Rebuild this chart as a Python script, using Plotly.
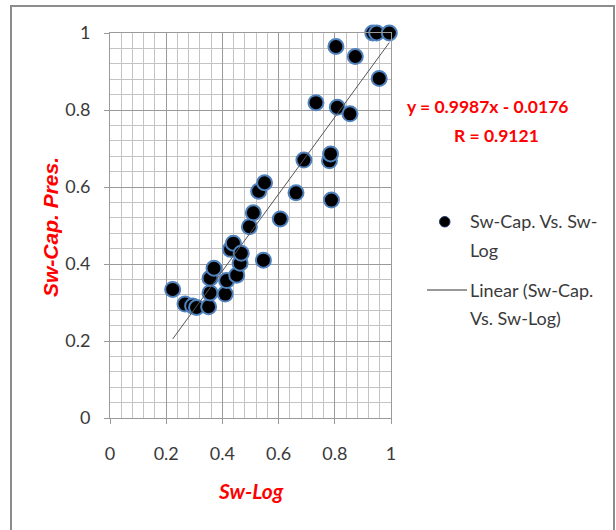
import plotly.graph_objects as go

# Saturation from log analysis vs. saturation from capillary pressure
sw_log = [0.223, 0.267, 0.294, 0.308, 0.351, 0.356, 0.356, 0.370, 0.410, 0.415,
          0.429, 0.439, 0.451, 0.463, 0.467, 0.496, 0.510, 0.529, 0.550, 0.546,
          0.606, 0.662, 0.690, 0.733, 0.781, 0.785, 0.788, 0.804, 0.809, 0.854,
          0.873, 0.935, 0.949, 0.958, 0.994]
sw_cap = [0.334, 0.296, 0.291, 0.287, 0.289, 0.325, 0.363, 0.389, 0.322, 0.357,
          0.438, 0.454, 0.371, 0.402, 0.428, 0.497, 0.533, 0.589, 0.611, 0.410,
          0.517, 0.585, 0.670, 0.819, 0.668, 0.686, 0.566, 0.965, 0.807, 0.790,
          0.939, 1.0, 1.0, 0.882, 1.0]

# Linear fit coefficients and correlation
slope = 0.9987
intercept = -0.0176
r_value = 0.9121

tick_vals = [0, 0.2, 0.4, 0.6, 0.8, 1]
tick_text = ["0", "0.2", "0.4", "0.6", "0.8", "1"]

series_name = "Sw-Cap. Vs. Sw-Log"
fit_name = "Linear (Sw-Cap. Vs. Sw-Log)"

NARROW = "Lato, sans-serif"
WIDE = "Liberation Sans, Arial, sans-serif"
RED = "#ff0000"
TEXT = "#3a3a3a"

# plot-area geometry in pixels
W, H = 616, 530
L, R, T, B = 110, 391, 33, 418


def px(x):
    return (x - L) / (R - L)


def py(y):
    return (B - y) / (B - T)


x_fit = [min(sw_log), max(sw_log)]
y_fit = [slope * v + intercept for v in x_fit]

fig = go.Figure()
fig.add_trace(go.Scatter(
    x=sw_log, y=sw_cap, mode="markers", name=series_name, showlegend=False,
    cliponaxis=False,
    marker=dict(size=15, color="#000000", line=dict(color="#4f81bd", width=2)),
))
fig.add_trace(go.Scatter(
    x=x_fit, y=y_fit, mode="lines", name=fit_name, showlegend=False,
    line=dict(color="#555555", width=1),
))

axis_common = dict(
    range=[0, 1], tickvals=tick_vals, ticktext=tick_text,
    showgrid=True, gridcolor="#9a9a9a", gridwidth=1,
    minor=dict(dtick=0.04, showgrid=True, gridcolor="#c4c4c4", gridwidth=1),
    showline=True, linecolor="#9a9a9a", linewidth=1, mirror=True,
    ticks="outside", ticklen=5, tickcolor="#9a9a9a",
    tickfont=dict(family=NARROW, size=18, color=TEXT),
    zeroline=False, fixedrange=True,
)
fig.update_xaxes(**axis_common, ticklabelstandoff=14)
fig.update_yaxes(**axis_common, ticklabelstandoff=10)

shapes = [
    # chart frame
    dict(type="rect", xref="paper", yref="paper",
         x0=px(11), x1=px(614), y0=py(545), y1=py(6),
         line=dict(color="#8c8c8c", width=2), fillcolor="rgba(0,0,0,0)", layer="below"),
    # legend symbols
    dict(type="circle", xref="paper", yref="paper",
         x0=px(439.5), x1=px(450), y0=py(227), y1=py(216.5),
         fillcolor="#000000", line=dict(color="#1f3864", width=1)),
    dict(type="line", xref="paper", yref="paper",
         x0=px(427), x1=px(467), y0=py(290), y1=py(290),
         line=dict(color="#333333", width=1)),
]

annotations = [
    dict(text=f"y = {slope}x - {abs(intercept)}", x=px(487), y=py(107),
         font=dict(family=NARROW, size=17.5, color=RED, weight="bold")),
    dict(text=f"R = {r_value}", x=px(497), y=py(135),
         font=dict(family=NARROW, size=17.5, color=RED, weight="bold")),
    dict(text="<b><i>Sw-Log</i></b>", x=px(251), y=py(490),
         font=dict(family=NARROW, size=21, color=RED)),
    dict(text="<b><i>Sw-Cap. Pres.</i></b>", x=px(51), y=py(227), textangle=-90,
         font=dict(family=WIDE, size=21, color=RED)),
    dict(text="Sw-Cap. Vs. Sw-", x=px(468), y=py(221), xanchor="left",
         font=dict(family=NARROW, size=18, color=TEXT)),
    dict(text="Log", x=px(468), y=py(250), xanchor="left",
         font=dict(family=NARROW, size=18, color=TEXT)),
    dict(text="Linear (Sw-Cap.", x=px(468), y=py(290), xanchor="left",
         font=dict(family=NARROW, size=18, color=TEXT)),
    dict(text="Vs. Sw-Log)", x=px(468), y=py(318), xanchor="left",
         font=dict(family=NARROW, size=18, color=TEXT)),
]
for a in annotations:
    a.update(xref="paper", yref="paper", showarrow=False)
    a.setdefault("xanchor", "center")
    a.setdefault("yanchor", "middle")

fig.update_layout(
    width=W, height=H,
    margin=dict(l=L, r=W - R, t=T, b=H - B),
    paper_bgcolor="#ffffff", plot_bgcolor="#ffffff",
    shapes=shapes, annotations=annotations,
    showlegend=False,
)

fig.write_html("out.html", config={"displayModeBar": False})
